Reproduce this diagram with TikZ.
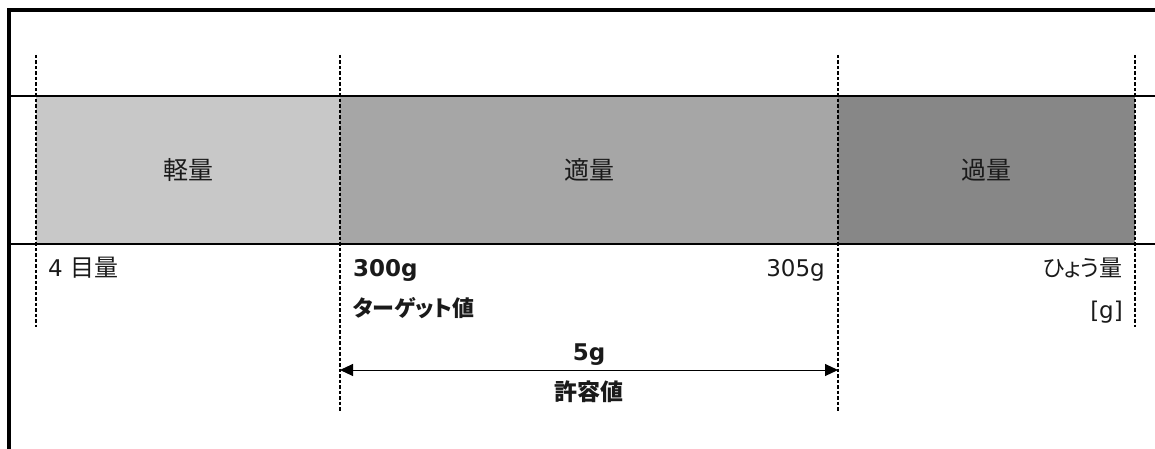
\documentclass[tikz,border=0pt]{standalone}
\usepackage{fontspec}
\setmainfont{DejaVu Sans}
\newfontfamily\jp[RawFeature=+palt]{Noto Sans CJK JP}
\usetikzlibrary{arrows.meta}
\definecolor{bandA}{HTML}{C8C8C8}
\definecolor{bandB}{HTML}{A6A6A6}
\definecolor{bandC}{HTML}{878787}
\definecolor{txt}{HTML}{1A1A1A}
\tikzset{
  band/.style={draw=none, minimum height=148pt, inner sep=0pt, text=txt, font=\fontsize{25}{28}\selectfont\jp},
  frame/.style={line width=3.5pt},
  rule/.style={line width=2pt},
  guide/.style={line width=1.8pt, dash pattern=on 3.5pt off 2pt},
  lbl/.style={inner sep=0pt, text=txt, font=\fontsize{23}{28}\selectfont},
  dimarrow/.style={line width=1pt, {Triangle[length=13pt,width=12pt]}-{Triangle[length=13pt,width=12pt]}}
}
\begin{document}
\begin{tikzpicture}[x=1pt,y=-1pt]
\useasboundingbox (0,0) rectangle (1155,449);
% bands
\node[band, fill=bandA, minimum width=304pt] (light) at (188,170) {軽量};
\node[band, fill=bandB, minimum width=498pt] (right) at (589,170) {適量};
\node[band, fill=bandC, minimum width=297pt] (heavy) at (986.5,170) {過量};
% frame and rules
\draw[frame] (9,449) -- (9,10) -- (1155,10);
\draw[rule] (9,96) -- (1155,96);
\draw[rule] (9,244) -- (1155,244);
% guides
\coordinate (g1t) at (36,55);   \coordinate (g1b) at (36,327);
\coordinate (g2t) at (340,55);  \coordinate (g2b) at (340,412);
\coordinate (g3t) at (838,55);  \coordinate (g3b) at (838,412);
\coordinate (g4t) at (1135,55); \coordinate (g4b) at (1135,327);
\draw[guide] (g1t) -- (g1b);
\draw[guide] (g2t) -- (g2b);
\draw[guide] (g3t) -- (g3b);
\draw[guide] (g4t) -- (g4b);
% labels
\node[lbl, anchor=base west] (scale) at (48,276) {4 {\fontsize{24}{28}\selectfont\jp 目量}};
\node[lbl, anchor=base west, font=\fontsize{23}{28}\selectfont\bfseries] (target) at (353,276) {300g};
\node[lbl, anchor=base east] (upper) at (825,276) {305g};
\node[lbl, anchor=base west, font=\fontsize{22}{28}\selectfont\jp\bfseries] (targetlbl) at (353,316) {ターゲット値};
\node[lbl, anchor=base east, font=\fontsize{23}{28}\selectfont\jp] (cap) at (1123,276) {ひょう量};
\node[lbl, anchor=base east] (unit) at (1123,318) {[g]};
\node[lbl, anchor=base, font=\fontsize{23}{28}\selectfont\bfseries] (tol) at (589,360) {5g};
\node[lbl, anchor=base, font=\fontsize{23}{28}\selectfont\jp\bfseries] (tollbl) at (589,400) {許容値};
% dimension arrow
\coordinate (aL) at (340,370);
\coordinate (aR) at (838,370);
\draw[dimarrow] (aL) -- (aR);
\end{tikzpicture}
\end{document}
